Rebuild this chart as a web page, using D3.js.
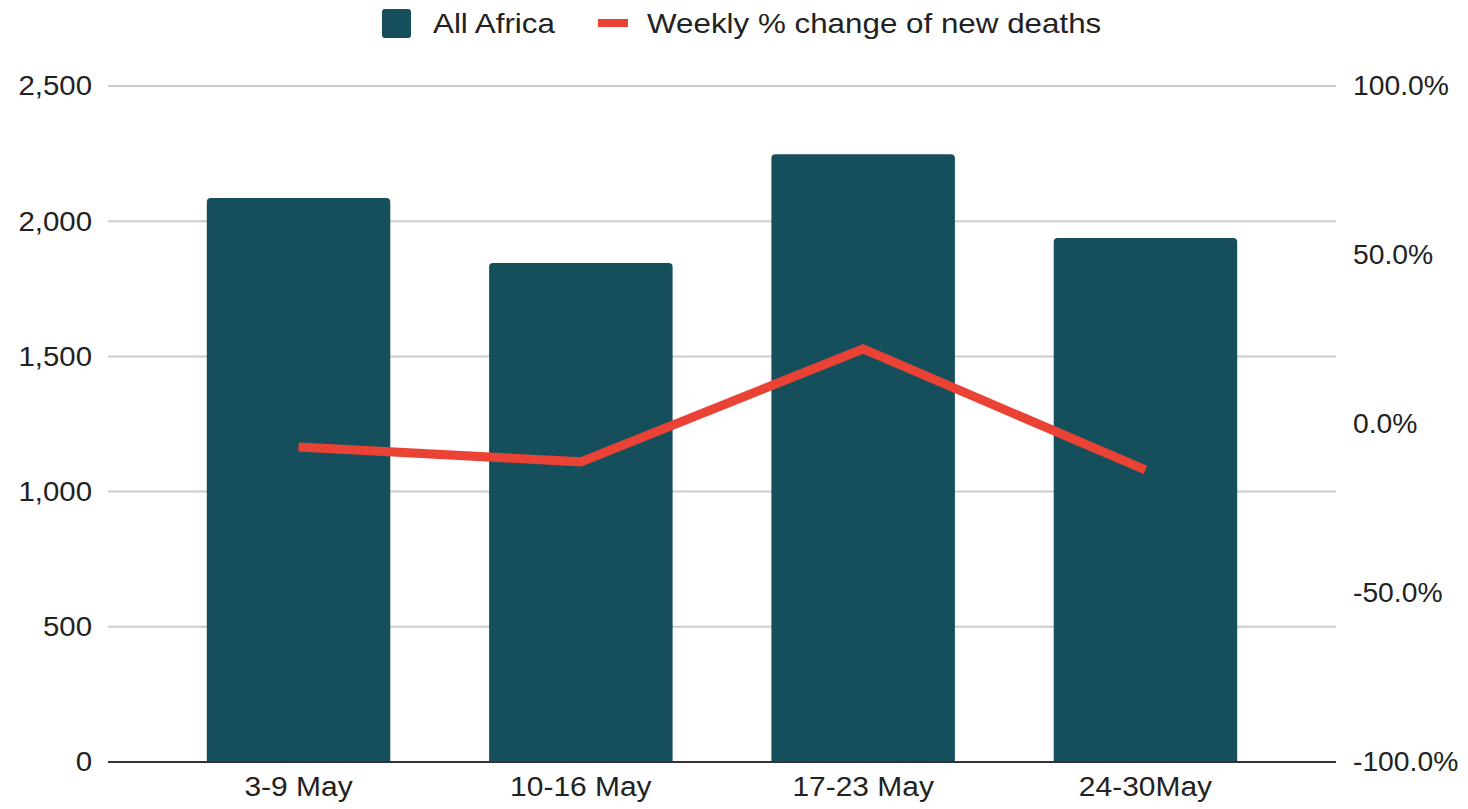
<!DOCTYPE html>
<html><head><meta charset="utf-8">
<script src="https://cdn.jsdelivr.net/npm/d3@7"></script>
<style>
html,body{margin:0;padding:0;background:#fff;}
text{font-family:"Liberation Sans",Arial,sans-serif;fill:#222;}
</style></head>
<body>
<svg id="chart" width="1468" height="809"></svg>
<script>
const categories = ["3-9 May","10-16 May","17-23 May","24-30May"];
const deaths = [2086, 1845, 2248, 1938];
const weeklyChange = [-6.8, -11.2, 22.2, -13.6];
const leftTicks = [0, 500, 1000, 1500, 2000, 2500];
const rightTicks = [-100, -50, 0, 50, 100];
const seriesNames = ["All Africa", "Weekly % change of new deaths"];

const W = 1468, H = 809;
const m = {left:108, right:132, top:86, bottom:47};
const svg = d3.select("#chart");
const fs = 28;
const ff = '"Liberation Sans",Arial,sans-serif';

function stretch(sel, s) {
  sel.each(function() {
    const t = d3.select(this);
    const ax = +t.attr("x") || 0;
    t.attr("transform", `translate(${ax},0) scale(${s},1) translate(${-ax},0)`);
  });
}

const x = d3.scaleBand().domain(categories).range([m.left, W - m.right]).paddingInner(0.35).paddingOuter(0.35);
const yL = d3.scaleLinear().domain([0, 2500]).range([H - m.bottom, m.top]);
const yR = d3.scaleLinear().domain([-100, 100]).range([H - m.bottom, m.top]);

// gridlines
svg.append("g").selectAll("line").data(leftTicks.filter(d => d > 0)).join("line")
  .attr("x1", m.left).attr("x2", W - m.right)
  .attr("y1", d => yL(d)).attr("y2", d => yL(d))
  .attr("stroke", "#cccccc").attr("stroke-width", 2);

// bars with rounded top corners
const r = 4;
svg.append("g").selectAll("path").data(categories).join("path")
  .attr("fill", "#164f5c")
  .attr("d", (c, i) => {
    const x0 = x(c), x1 = x(c) + x.bandwidth(), y0 = yL(deaths[i]), yb = yL(0);
    return `M${x0},${yb}V${y0 + r}Q${x0},${y0} ${x0 + r},${y0}H${x1 - r}Q${x1},${y0} ${x1},${y0 + r}V${yb}Z`;
  });

// baseline
svg.append("line").attr("x1", m.left).attr("x2", W - m.right)
  .attr("y1", yL(0)).attr("y2", yL(0)).attr("stroke", "#333").attr("stroke-width", 2);

// line
const line = d3.line().x((d, i) => x(categories[i]) + x.bandwidth() / 2).y(d => yR(d));
svg.append("path").datum(weeklyChange).attr("d", line)
  .attr("fill", "none").attr("stroke", "#ea4335").attr("stroke-width", 9)
  .attr("stroke-linejoin", "miter");

// left axis
const axL = svg.append("g").attr("transform", `translate(${m.left},0)`)
  .call(d3.axisLeft(yL).tickValues(leftTicks).tickFormat(d3.format(",")).tickSize(0).tickPadding(16));
axL.select(".domain").remove();
axL.selectAll("text").attr("font-size", fs).style("font-family", ff).attr("fill", "#222").call(stretch, 1.05);

// right axis
const axR = svg.append("g").attr("transform", `translate(${W - m.right},0)`)
  .call(d3.axisRight(yR).tickValues(rightTicks).tickFormat(d => d.toFixed(1) + "%").tickSize(0).tickPadding(17));
axR.select(".domain").remove();
axR.selectAll("text").attr("font-size", fs).style("font-family", ff).attr("fill", "#222").call(stretch, 1.01);

// x axis
const axX = svg.append("g").attr("transform", `translate(0,${yL(0)})`)
  .call(d3.axisBottom(x).tickSize(0).tickPadding(14));
axX.select(".domain").remove();
axX.selectAll("text").attr("font-size", fs).style("font-family", ff).attr("fill", "#222").call(stretch, 1.07);

// legend
const lg = svg.append("g");
lg.append("rect").attr("x", 382).attr("y", 9).attr("width", 29).attr("height", 29).attr("rx", 3).attr("fill", "#164f5c");
lg.append("text").attr("x", 433).attr("y", 23).attr("dy", "0.35em").attr("font-size", fs).text(seriesNames[0]).call(stretch, 1.12);
lg.append("line").attr("x1", 598).attr("x2", 628).attr("y1", 23).attr("y2", 23).attr("stroke", "#ea4335").attr("stroke-width", 8);
lg.append("text").attr("x", 647).attr("y", 23).attr("dy", "0.35em").attr("font-size", fs).text(seriesNames[1]).call(stretch, 1.12);
</script>
</body></html>
